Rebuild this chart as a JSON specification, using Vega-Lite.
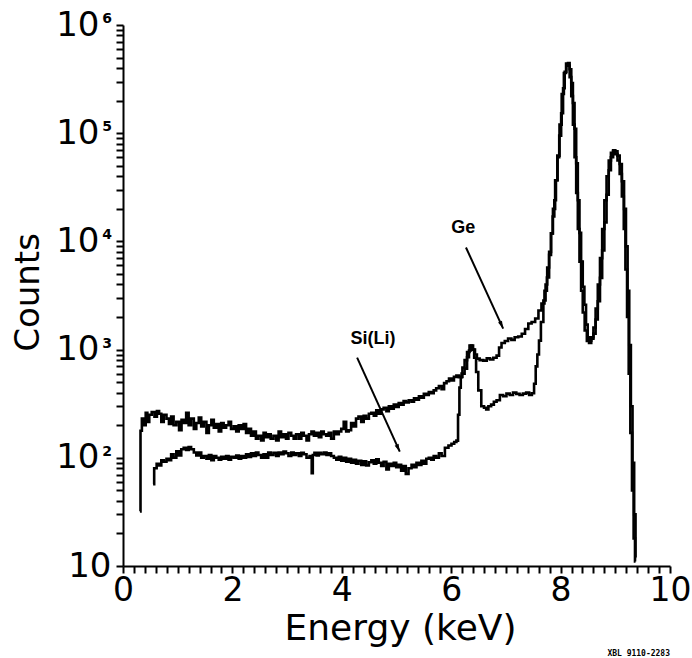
{
  "$schema": "https://vega.github.io/schema/vega-lite/v6.json",
  "autosize": "none",
  "width": 547,
  "height": 541,
  "padding": {"left": 123, "top": 25, "right": 22, "bottom": 92},
  "background": "white",
  "config": {
    "view": {"stroke": null},
    "axis": {"domainColor": "black", "tickColor": "black", "labelColor": "black", "titleColor": "black", "domainWidth": 2, "tickWidth": 2, "ticks": true, "tickOpacity": 1, "grid": false, "labelFont": "DejaVu Sans", "titleFont": "DejaVu Sans", "titleFontWeight": "normal"},
    "title": {"color": "black"}
  },
  "title": {"text": "XBL 9110-2283", "orient": "bottom", "anchor": "end", "frame": "group", "font": "DejaVu Sans Mono", "fontSize": 8, "fontWeight": "bold", "offset": 4},
  "datasets": {
    "spec": [
      {"s":"Ge","e":0.31,"c":32},{"s":"Ge","e":0.33,"c":178},{"s":"Ge","e":0.36,"c":230},{"s":"Ge","e":0.40,"c":200},{"s":"Ge","e":0.43,"c":260},{"s":"Ge","e":0.46,"c":215},{"s":"Ge","e":0.50,"c":250},{"s":"Ge","e":0.55,"c":265},{"s":"Ge","e":0.60,"c":240},{"s":"Ge","e":0.64,"c":270},{"s":"Ge","e":0.68,"c":255},{"s":"Ge","e":0.72,"c":215},{"s":"Ge","e":0.77,"c":250},{"s":"Ge","e":0.82,"c":230},{"s":"Ge","e":0.86,"c":205},{"s":"Ge","e":0.90,"c":240},{"s":"Ge","e":0.95,"c":200},{"s":"Ge","e":1.00,"c":215},{"s":"Ge","e":1.05,"c":180},{"s":"Ge","e":1.09,"c":225},{"s":"Ge","e":1.13,"c":210},{"s":"Ge","e":1.18,"c":260},{"s":"Ge","e":1.22,"c":200},{"s":"Ge","e":1.27,"c":230},{"s":"Ge","e":1.32,"c":185},{"s":"Ge","e":1.36,"c":210},{"s":"Ge","e":1.41,"c":235},{"s":"Ge","e":1.45,"c":195},{"s":"Ge","e":1.50,"c":215},{"s":"Ge","e":1.55,"c":170},{"s":"Ge","e":1.59,"c":200},{"s":"Ge","e":1.64,"c":225},{"s":"Ge","e":1.68,"c":190},{"s":"Ge","e":1.73,"c":205},{"s":"Ge","e":1.77,"c":175},{"s":"Ge","e":1.82,"c":210},{"s":"Ge","e":1.86,"c":190},{"s":"Ge","e":1.91,"c":200},{"s":"Ge","e":1.95,"c":215},{"s":"Ge","e":2.00,"c":185},{"s":"Ge","e":2.05,"c":195},{"s":"Ge","e":2.09,"c":175},{"s":"Ge","e":2.14,"c":200},{"s":"Ge","e":2.18,"c":185},{"s":"Ge","e":2.23,"c":205},{"s":"Ge","e":2.27,"c":170},{"s":"Ge","e":2.32,"c":185},{"s":"Ge","e":2.36,"c":160},{"s":"Ge","e":2.41,"c":175},{"s":"Ge","e":2.45,"c":150},{"s":"Ge","e":2.50,"c":160},{"s":"Ge","e":2.55,"c":145},{"s":"Ge","e":2.59,"c":170},{"s":"Ge","e":2.63,"c":155},{"s":"Ge","e":2.68,"c":165},{"s":"Ge","e":2.72,"c":150},{"s":"Ge","e":2.78,"c":160},{"s":"Ge","e":2.82,"c":145},{"s":"Ge","e":2.87,"c":175},{"s":"Ge","e":2.91,"c":155},{"s":"Ge","e":2.96,"c":165},{"s":"Ge","e":3.00,"c":150},{"s":"Ge","e":3.05,"c":170},{"s":"Ge","e":3.10,"c":160},{"s":"Ge","e":3.14,"c":150},{"s":"Ge","e":3.19,"c":165},{"s":"Ge","e":3.24,"c":150},{"s":"Ge","e":3.28,"c":170},{"s":"Ge","e":3.33,"c":160},{"s":"Ge","e":3.38,"c":145},{"s":"Ge","e":3.42,"c":165},{"s":"Ge","e":3.47,"c":175},{"s":"Ge","e":3.51,"c":160},{"s":"Ge","e":3.56,"c":170},{"s":"Ge","e":3.60,"c":155},{"s":"Ge","e":3.65,"c":175},{"s":"Ge","e":3.69,"c":165},{"s":"Ge","e":3.74,"c":160},{"s":"Ge","e":3.78,"c":170},{"s":"Ge","e":3.83,"c":150},{"s":"Ge","e":3.88,"c":175},{"s":"Ge","e":3.92,"c":165},{"s":"Ge","e":3.97,"c":175},{"s":"Ge","e":4.01,"c":185},{"s":"Ge","e":4.06,"c":215},{"s":"Ge","e":4.10,"c":175},{"s":"Ge","e":4.15,"c":180},{"s":"Ge","e":4.19,"c":210},{"s":"Ge","e":4.24,"c":195},{"s":"Ge","e":4.28,"c":230},{"s":"Ge","e":4.33,"c":240},{"s":"Ge","e":4.38,"c":215},{"s":"Ge","e":4.42,"c":245},{"s":"Ge","e":4.47,"c":230},{"s":"Ge","e":4.52,"c":255},{"s":"Ge","e":4.56,"c":260},{"s":"Ge","e":4.61,"c":245},{"s":"Ge","e":4.65,"c":275},{"s":"Ge","e":4.70,"c":255},{"s":"Ge","e":4.74,"c":280},{"s":"Ge","e":4.79,"c":290},{"s":"Ge","e":4.84,"c":270},{"s":"Ge","e":4.88,"c":300},{"s":"Ge","e":4.93,"c":285},{"s":"Ge","e":4.97,"c":310},{"s":"Ge","e":5.02,"c":295},{"s":"Ge","e":5.06,"c":320},{"s":"Ge","e":5.11,"c":310},{"s":"Ge","e":5.15,"c":335},{"s":"Ge","e":5.20,"c":325},{"s":"Ge","e":5.25,"c":340},{"s":"Ge","e":5.30,"c":330},{"s":"Ge","e":5.34,"c":355},{"s":"Ge","e":5.39,"c":345},{"s":"Ge","e":5.43,"c":370},{"s":"Ge","e":5.48,"c":360},{"s":"Ge","e":5.52,"c":390},{"s":"Ge","e":5.57,"c":380},{"s":"Ge","e":5.61,"c":405},{"s":"Ge","e":5.66,"c":395},{"s":"Ge","e":5.70,"c":420},{"s":"Ge","e":5.75,"c":440},{"s":"Ge","e":5.80,"c":460},{"s":"Ge","e":5.85,"c":430},{"s":"Ge","e":5.89,"c":490},{"s":"Ge","e":5.94,"c":510},{"s":"Ge","e":5.98,"c":540},{"s":"Ge","e":6.03,"c":520},{"s":"Ge","e":6.07,"c":560},{"s":"Ge","e":6.12,"c":575},{"s":"Ge","e":6.16,"c":555},{"s":"Ge","e":6.22,"c":600},{"s":"Ge","e":6.27,"c":667},{"s":"Ge","e":6.31,"c":850},{"s":"Ge","e":6.34,"c":980},{"s":"Ge","e":6.38,"c":1090},{"s":"Ge","e":6.42,"c":1000},{"s":"Ge","e":6.45,"c":900},{"s":"Ge","e":6.49,"c":826},{"s":"Ge","e":6.55,"c":800},{"s":"Ge","e":6.62,"c":791},{"s":"Ge","e":6.68,"c":830},{"s":"Ge","e":6.74,"c":810},{"s":"Ge","e":6.80,"c":840},{"s":"Ge","e":6.86,"c":880},{"s":"Ge","e":6.89,"c":1045},{"s":"Ge","e":6.95,"c":1150},{"s":"Ge","e":7.01,"c":1200},{"s":"Ge","e":7.07,"c":1265},{"s":"Ge","e":7.13,"c":1230},{"s":"Ge","e":7.19,"c":1300},{"s":"Ge","e":7.26,"c":1320},{"s":"Ge","e":7.32,"c":1400},{"s":"Ge","e":7.38,"c":1550},{"s":"Ge","e":7.44,"c":1740},{"s":"Ge","e":7.50,"c":1800},{"s":"Ge","e":7.57,"c":1940},{"s":"Ge","e":7.62,"c":2300},{"s":"Ge","e":7.68,"c":2670},{"s":"Ge","e":7.73,"c":3500},{"s":"Ge","e":7.77,"c":4640},{"s":"Ge","e":7.81,"c":7500},{"s":"Ge","e":7.84,"c":11860},{"s":"Ge","e":7.87,"c":17000},{"s":"Ge","e":7.90,"c":24000},{"s":"Ge","e":7.93,"c":36700},{"s":"Ge","e":7.96,"c":60000},{"s":"Ge","e":7.99,"c":95000},{"s":"Ge","e":8.03,"c":153000},{"s":"Ge","e":8.06,"c":260000},{"s":"Ge","e":8.09,"c":370000},{"s":"Ge","e":8.12,"c":430000},{"s":"Ge","e":8.15,"c":445000},{"s":"Ge","e":8.18,"c":390000},{"s":"Ge","e":8.21,"c":290000},{"s":"Ge","e":8.24,"c":190000},{"s":"Ge","e":8.27,"c":110000},{"s":"Ge","e":8.30,"c":52700},{"s":"Ge","e":8.33,"c":24000},{"s":"Ge","e":8.36,"c":12000},{"s":"Ge","e":8.39,"c":6500},{"s":"Ge","e":8.42,"c":3800},{"s":"Ge","e":8.45,"c":2600},{"s":"Ge","e":8.48,"c":1700},{"s":"Ge","e":8.51,"c":1300},{"s":"Ge","e":8.54,"c":1210},{"s":"Ge","e":8.58,"c":1260},{"s":"Ge","e":8.62,"c":1405},{"s":"Ge","e":8.66,"c":1900},{"s":"Ge","e":8.70,"c":2800},{"s":"Ge","e":8.74,"c":4600},{"s":"Ge","e":8.78,"c":8260},{"s":"Ge","e":8.82,"c":15000},{"s":"Ge","e":8.86,"c":27000},{"s":"Ge","e":8.90,"c":45400},{"s":"Ge","e":8.94,"c":60000},{"s":"Ge","e":8.98,"c":69600},{"s":"Ge","e":9.02,"c":68000},{"s":"Ge","e":9.06,"c":62000},{"s":"Ge","e":9.10,"c":52000},{"s":"Ge","e":9.14,"c":36000},{"s":"Ge","e":9.18,"c":20000},{"s":"Ge","e":9.21,"c":9000},{"s":"Ge","e":9.24,"c":3500},{"s":"Ge","e":9.27,"c":1100},{"s":"Ge","e":9.30,"c":300},{"s":"Ge","e":9.33,"c":90},{"s":"Ge","e":9.36,"c":30},{"s":"Ge","e":9.38,"c":12},
      {"s":"Si","e":0.55,"c":57},{"s":"Si","e":0.59,"c":80},{"s":"Si","e":0.64,"c":88},{"s":"Si","e":0.68,"c":85},{"s":"Si","e":0.72,"c":95},{"s":"Si","e":0.77,"c":92},{"s":"Si","e":0.82,"c":98},{"s":"Si","e":0.86,"c":95},{"s":"Si","e":0.90,"c":108},{"s":"Si","e":0.95,"c":100},{"s":"Si","e":1.00,"c":115},{"s":"Si","e":1.04,"c":105},{"s":"Si","e":1.09,"c":120},{"s":"Si","e":1.13,"c":124},{"s":"Si","e":1.18,"c":118},{"s":"Si","e":1.22,"c":126},{"s":"Si","e":1.27,"c":120},{"s":"Si","e":1.32,"c":112},{"s":"Si","e":1.36,"c":105},{"s":"Si","e":1.41,"c":112},{"s":"Si","e":1.45,"c":100},{"s":"Si","e":1.50,"c":104},{"s":"Si","e":1.55,"c":98},{"s":"Si","e":1.59,"c":106},{"s":"Si","e":1.64,"c":95},{"s":"Si","e":1.68,"c":104},{"s":"Si","e":1.73,"c":100},{"s":"Si","e":1.77,"c":96},{"s":"Si","e":1.82,"c":102},{"s":"Si","e":1.86,"c":98},{"s":"Si","e":1.91,"c":104},{"s":"Si","e":1.95,"c":96},{"s":"Si","e":2.00,"c":102},{"s":"Si","e":2.05,"c":100},{"s":"Si","e":2.09,"c":105},{"s":"Si","e":2.14,"c":98},{"s":"Si","e":2.18,"c":104},{"s":"Si","e":2.23,"c":100},{"s":"Si","e":2.27,"c":108},{"s":"Si","e":2.32,"c":102},{"s":"Si","e":2.36,"c":110},{"s":"Si","e":2.41,"c":104},{"s":"Si","e":2.45,"c":112},{"s":"Si","e":2.50,"c":106},{"s":"Si","e":2.55,"c":100},{"s":"Si","e":2.59,"c":108},{"s":"Si","e":2.63,"c":100},{"s":"Si","e":2.68,"c":112},{"s":"Si","e":2.72,"c":106},{"s":"Si","e":2.78,"c":111},{"s":"Si","e":2.82,"c":104},{"s":"Si","e":2.87,"c":112},{"s":"Si","e":2.91,"c":108},{"s":"Si","e":2.96,"c":114},{"s":"Si","e":3.00,"c":110},{"s":"Si","e":3.05,"c":104},{"s":"Si","e":3.10,"c":112},{"s":"Si","e":3.14,"c":106},{"s":"Si","e":3.19,"c":110},{"s":"Si","e":3.24,"c":104},{"s":"Si","e":3.28,"c":111},{"s":"Si","e":3.33,"c":108},{"s":"Si","e":3.38,"c":100},{"s":"Si","e":3.44,"c":104},{"s":"Si","e":3.46,"c":72},{"s":"Si","e":3.48,"c":106},{"s":"Si","e":3.52,"c":111},{"s":"Si","e":3.56,"c":105},{"s":"Si","e":3.60,"c":111},{"s":"Si","e":3.65,"c":108},{"s":"Si","e":3.70,"c":112},{"s":"Si","e":3.74,"c":106},{"s":"Si","e":3.78,"c":110},{"s":"Si","e":3.83,"c":104},{"s":"Si","e":3.88,"c":100},{"s":"Si","e":3.92,"c":96},{"s":"Si","e":3.97,"c":102},{"s":"Si","e":4.01,"c":94},{"s":"Si","e":4.06,"c":100},{"s":"Si","e":4.10,"c":92},{"s":"Si","e":4.15,"c":98},{"s":"Si","e":4.19,"c":90},{"s":"Si","e":4.24,"c":96},{"s":"Si","e":4.28,"c":88},{"s":"Si","e":4.33,"c":94},{"s":"Si","e":4.38,"c":86},{"s":"Si","e":4.42,"c":93},{"s":"Si","e":4.47,"c":85},{"s":"Si","e":4.52,"c":91},{"s":"Si","e":4.56,"c":95},{"s":"Si","e":4.61,"c":88},{"s":"Si","e":4.65,"c":97},{"s":"Si","e":4.70,"c":90},{"s":"Si","e":4.74,"c":84},{"s":"Si","e":4.79,"c":92},{"s":"Si","e":4.84,"c":78},{"s":"Si","e":4.88,"c":88},{"s":"Si","e":4.93,"c":84},{"s":"Si","e":4.97,"c":90},{"s":"Si","e":5.02,"c":82},{"s":"Si","e":5.06,"c":86},{"s":"Si","e":5.11,"c":76},{"s":"Si","e":5.15,"c":84},{"s":"Si","e":5.19,"c":71},{"s":"Si","e":5.25,"c":80},{"s":"Si","e":5.30,"c":86},{"s":"Si","e":5.34,"c":82},{"s":"Si","e":5.39,"c":90},{"s":"Si","e":5.43,"c":86},{"s":"Si","e":5.48,"c":94},{"s":"Si","e":5.52,"c":88},{"s":"Si","e":5.57,"c":98},{"s":"Si","e":5.61,"c":100},{"s":"Si","e":5.66,"c":96},{"s":"Si","e":5.70,"c":104},{"s":"Si","e":5.75,"c":100},{"s":"Si","e":5.80,"c":110},{"s":"Si","e":5.85,"c":104},{"s":"Si","e":5.92,"c":124},{"s":"Si","e":5.98,"c":130},{"s":"Si","e":6.03,"c":135},{"s":"Si","e":6.08,"c":140},{"s":"Si","e":6.11,"c":144},{"s":"Si","e":6.14,"c":250},{"s":"Si","e":6.16,"c":445},{"s":"Si","e":6.19,"c":560},{"s":"Si","e":6.22,"c":681},{"s":"Si","e":6.27,"c":800},{"s":"Si","e":6.31,"c":950},{"s":"Si","e":6.36,"c":1090},{"s":"Si","e":6.40,"c":1000},{"s":"Si","e":6.44,"c":843},{"s":"Si","e":6.47,"c":620},{"s":"Si","e":6.52,"c":420},{"s":"Si","e":6.58,"c":300},{"s":"Si","e":6.62,"c":290},{"s":"Si","e":6.66,"c":280},{"s":"Si","e":6.70,"c":300},{"s":"Si","e":6.76,"c":310},{"s":"Si","e":6.80,"c":330},{"s":"Si","e":6.86,"c":340},{"s":"Si","e":6.92,"c":380},{"s":"Si","e":6.98,"c":370},{"s":"Si","e":7.04,"c":392},{"s":"Si","e":7.10,"c":380},{"s":"Si","e":7.16,"c":400},{"s":"Si","e":7.22,"c":390},{"s":"Si","e":7.28,"c":380},{"s":"Si","e":7.34,"c":392},{"s":"Si","e":7.40,"c":400},{"s":"Si","e":7.45,"c":380},{"s":"Si","e":7.50,"c":395},{"s":"Si","e":7.53,"c":484},{"s":"Si","e":7.56,"c":700},{"s":"Si","e":7.59,"c":900},{"s":"Si","e":7.62,"c":1210},{"s":"Si","e":7.66,"c":1800},{"s":"Si","e":7.71,"c":2840},{"s":"Si","e":7.74,"c":4000},{"s":"Si","e":7.77,"c":5740},{"s":"Si","e":7.81,"c":8000},{"s":"Si","e":7.84,"c":11860},{"s":"Si","e":7.88,"c":20000},{"s":"Si","e":7.92,"c":36700},{"s":"Si","e":7.96,"c":62000},{"s":"Si","e":8.00,"c":120000},{"s":"Si","e":8.04,"c":230000},{"s":"Si","e":8.08,"c":360000},{"s":"Si","e":8.12,"c":440000},{"s":"Si","e":8.15,"c":420000},{"s":"Si","e":8.18,"c":330000},{"s":"Si","e":8.21,"c":220000},{"s":"Si","e":8.24,"c":120000},{"s":"Si","e":8.27,"c":60000},{"s":"Si","e":8.30,"c":28000},{"s":"Si","e":8.33,"c":13000},{"s":"Si","e":8.36,"c":6500},{"s":"Si","e":8.39,"c":3500},{"s":"Si","e":8.42,"c":2200},{"s":"Si","e":8.46,"c":1500},{"s":"Si","e":8.50,"c":1200},{"s":"Si","e":8.54,"c":1150},{"s":"Si","e":8.58,"c":1300},{"s":"Si","e":8.62,"c":1600},{"s":"Si","e":8.66,"c":2400},{"s":"Si","e":8.70,"c":4000},{"s":"Si","e":8.74,"c":7000},{"s":"Si","e":8.78,"c":13000},{"s":"Si","e":8.82,"c":24000},{"s":"Si","e":8.86,"c":40000},{"s":"Si","e":8.90,"c":56000},{"s":"Si","e":8.94,"c":66000},{"s":"Si","e":8.98,"c":68000},{"s":"Si","e":9.02,"c":64000},{"s":"Si","e":9.06,"c":56000},{"s":"Si","e":9.10,"c":42000},{"s":"Si","e":9.14,"c":26000},{"s":"Si","e":9.17,"c":13000},{"s":"Si","e":9.20,"c":5500},{"s":"Si","e":9.23,"c":2000},{"s":"Si","e":9.26,"c":600},{"s":"Si","e":9.29,"c":170},{"s":"Si","e":9.32,"c":50},{"s":"Si","e":9.35,"c":18},{"s":"Si","e":9.37,"c":11}
    ],
    "exps": [
      {"e": 0, "c": 100, "t": "2"},
      {"e": 0, "c": 1000, "t": "3"},
      {"e": 0, "c": 10000, "t": "4"},
      {"e": 0, "c": 100000, "t": "5"},
      {"e": 0, "c": 1000000, "t": "6"}
    ],
    "arrows": [
      {"e0": 6.27, "c0": 8790, "e": 6.95, "c": 1563, "ang": 155.5},
      {"e0": 4.28, "c0": 843, "e": 5.06, "c": 114, "ang": 155.4}
    ],
    "labels": [
      {"e": 6.22, "c": 13200, "t": "Ge"},
      {"e": 4.57, "c": 1265, "t": "Si(Li)"}
    ]
  },
  "encoding": {
    "x": {
      "field": "e", "type": "quantitative",
      "scale": {"domain": [0, 10], "nice": false, "zero": false},
      "axis": {
        "title": "Energy  (keV)",
        "tickCount": 50,
        "labelExpr": "abs(datum.value - 2*round(datum.value/2)) < 0.001 ? format(datum.value, 'd') : ''",
        "tickSize": 7,
        "tickWidth": 2,
        "tickColor": "black",
        "labelFontSize": 33,
        "labelPadding": 1,
        "labelOverlap": false,
        "labelFlush": false,
        "labelBound": false,
        "titleFontSize": 36,
        "titleX": 277,
        "titleY": 62,
        "titleBaseline": "middle",
        "titleAnchor": "start",
        "titleAlign": "center"
      }
    },
    "y": {
      "field": "c", "type": "quantitative",
      "scale": {"type": "log", "domain": [10, 1000000], "nice": false},
      "axis": {
        "title": "Counts",
        "tickCount": 50,
        "labelExpr": "abs(log(datum.value)/LN10 - round(log(datum.value)/LN10)) < 0.0001 ? '10' : ''",
        "tickSize": 7,
        "tickWidth": 2,
        "tickColor": "black",
        "labelPadding": {"condition": {"test": "datum.value < 15", "value": 5}, "value": 17},
        "labelFontSize": 34,
        "labelBaseline": "middle",
        "labelOverlap": false,
        "labelFlush": false,
        "titleFontSize": 34,
        "titleAngle": -90,
        "titleX": -95,
        "titleY": 267,
        "titleAlign": "center",
        "titleBaseline": "middle",
        "titleAnchor": "start"
      }
    }
  },
  "layer": [
    {
      "data": {"name": "spec"},
      "mark": {"type": "line", "color": "black", "strokeWidth": 2.6, "interpolate": "step", "clip": true},
      "encoding": {
        "detail": {"field": "s"}
      }
    },
    {
      "data": {"name": "exps"},
      "mark": {"type": "text", "color": "black", "font": "DejaVu Sans", "fontWeight": "bold", "fontSize": 14, "align": "right", "baseline": "alphabetic", "dx": -11, "dy": -2},
      "encoding": {
        "text": {"field": "t"}
      }
    },
    {
      "data": {"name": "arrows"},
      "mark": {"type": "rule", "color": "black", "strokeWidth": 2},
      "encoding": {
        "x2": {"field": "e0"},
        "y2": {"field": "c0"}
      }
    },
    {
      "data": {"name": "arrows"},
      "mark": {"type": "point", "filled": true, "color": "black", "opacity": 1, "size": 90, "shape": "M0,0 L0.45,1.6 L-0.45,1.6 Z"},
      "encoding": {
        "angle": {"field": "ang", "type": "quantitative", "scale": null}
      }
    },
    {
      "data": {"name": "labels"},
      "mark": {"type": "text", "color": "black", "font": "Liberation Sans", "fontWeight": "bold", "fontSize": 18, "align": "center", "baseline": "middle"},
      "encoding": {
        "text": {"field": "t"}
      }
    }
  ]
}
